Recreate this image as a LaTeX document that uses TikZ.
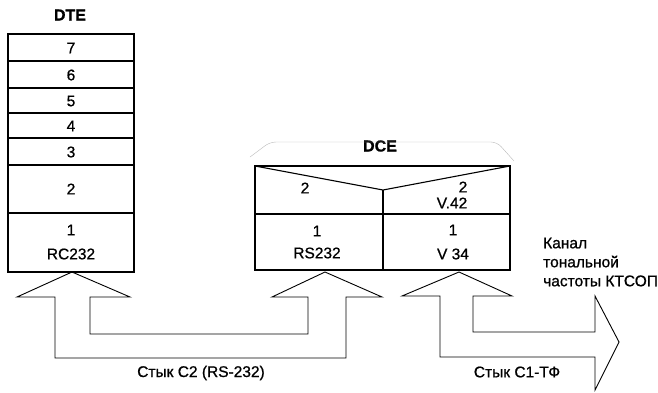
\documentclass[tikz,border=0pt]{standalone}
\usepackage{fontspec}
\setmainfont{Liberation Sans}[FakeBold=0.8]
\begin{document}
\begin{tikzpicture}[x=1pt,y=-1pt,
  box/.style={line width=1.1pt},
  fat/.style={line width=0.9pt,line join=miter},
  lbl/.style={font=\fontsize{15.5}{19}\selectfont,inner sep=0pt},
  ttl/.style={font=\fontsize{16}{18}\selectfont\bfseries,inner sep=0pt}]
\useasboundingbox (0,0) rectangle (658,392);

\node[ttl] (dte) at (70,15) {DTE};
\draw[box] (8,34) rectangle (134,272);
\draw[box] (8,61) -- (134,61);
\draw[box] (8,88) -- (134,88);
\draw[box] (8,113) -- (134,113);
\draw[box] (8,138) -- (134,138);
\draw[box] (8,165) -- (134,165);
\draw[box] (8,213) -- (134,213);
\node[lbl] (l7) at (71,48) {7};
\node[lbl] (l6) at (71,75) {6};
\node[lbl] (l5) at (71,101) {5};
\node[lbl] (l4) at (71,126) {4};
\node[lbl] (l3) at (71,152) {3};
\node[lbl] (l2) at (71,189) {2};
\node[lbl] (l1) at (71,230) {1};
\node[lbl] (rc) at (71,254) {RC232};

\node[ttl] (dce) at (380,146) {DCE};
\draw[gray!55,thin,rounded corners=6pt] (250,157) -- (270,142) -- (497,142) -- (514,161);
\draw[box] (255,166) rectangle (510,270);
\draw[box] (255,214) -- (510,214);
\draw[box] (383,190) -- (383,270);
\draw[box] (255,166) -- (383,190) -- (510,166);
\node[lbl] (d2a) at (305,188) {2};
\node[lbl] (d1a) at (317,231) {1};
\node[lbl] (rs) at (317,253) {RS232};
\node[lbl] (d2b) at (463,187) {2};
\node[lbl] (v42) at (452,203) {V.42};
\node[lbl] (d1b) at (453,230) {1};
\node[lbl] (v34) at (453,254) {V 34};

\draw[fat] (72,272) -- (130,297) -- (90,297) -- (90,334) -- (308,334) -- (308,297)
  -- (272,297) -- (325,272) -- (382,297) -- (346,297) -- (346,358) -- (55,358)
  -- (55,297) -- (17,297) -- cycle;
\draw[fat] (459,272) -- (512,296) -- (473,296) -- (473,332) -- (595,332) -- (595,296)
  -- (619,342) -- (595,390) -- (595,357) -- (440,357) -- (440,296) -- (402,296) -- cycle;

\node[lbl,anchor=west,align=left] (kanal) at (543,262) {Канал\\тональной\\частоты КТСОП};
\node[lbl] (c2) at (201,373) {Стык C2 (RS-232)};
\node[lbl] (c1) at (517,372) {Стык C1-ТФ};
\end{tikzpicture}
\end{document}
